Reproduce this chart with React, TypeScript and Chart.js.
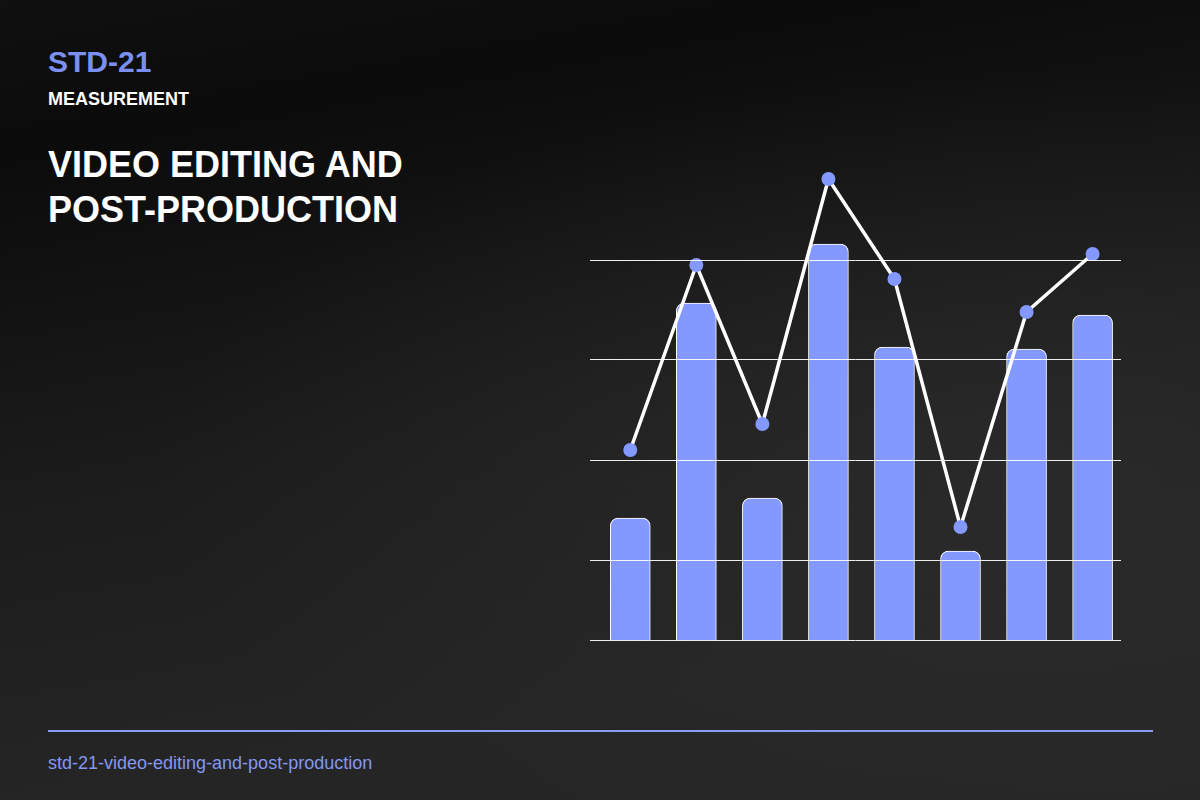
import React, { useEffect, useRef } from "react";
import { Chart, registerables } from "chart.js";

Chart.register(...registerables);

const categories = ["A", "B", "C", "D", "E", "F", "G", "H"];
const barValues = [28.4, 71.4, 32.4, 83.2, 62.6, 21.8, 62.2, 69];
const lineValues = [42, 79, 47.2, 96.2, 76.2, 26.6, 69.6, 81.2];
const gridTicks = [4, 20, 40, 60, 80];

const ACCENT = "#8499ff";

function ChartCanvas() {
  const ref = useRef<HTMLCanvasElement | null>(null);
  useEffect(() => {
    if (!ref.current) return;
    const barPoints = categories.map((_, i) => ({ x: i, y: barValues[i] }));
    const linePoints = categories.map((_, i) => ({ x: i, y: lineValues[i] }));
    const chart = new Chart(ref.current, {
      type: "bar",
      data: {
        labels: categories,
        datasets: [
          {
            type: "line",
            data: linePoints,
            borderColor: "#ffffff",
            borderWidth: 3.5,
            tension: 0,
            pointRadius: 7,
            pointHoverRadius: 7,
            pointBackgroundColor: ACCENT,
            pointBorderWidth: 0,
            fill: false,
          } as any,
          {
            type: "bar",
            data: barPoints,
            backgroundColor: ACCENT,
            borderColor: "#ffffff",
            borderWidth: 1,
            borderRadius: 8,
            borderSkipped: false,
            barThickness: 40,
          } as any,
        ],
      },
      options: {
        animation: false,
        responsive: false,
        maintainAspectRatio: false,
        layout: { autoPadding: false, padding: { top: 10, bottom: 10, left: 0, right: 0 } },
        plugins: { legend: { display: false }, tooltip: { enabled: false }, title: { display: false } },
        scales: {
          x: {
            type: "linear",
            display: false,
            offset: false,
            min: -0.61,
            max: 7.43,
          },
          y: {
            min: 4,
            max: 100,
            afterBuildTicks: (scale: any) => {
              scale.ticks = gridTicks.map((v) => ({ value: v }));
            },
            ticks: { display: false },
            border: { display: false },
            grid: {
              color: "rgba(255,255,255,0.92)",
              lineWidth: 1,
              drawTicks: false,
              z: 1,
            },
          },
        },
      } as any,
    });
    return () => chart.destroy();
  }, []);
  return (
    <canvas
      ref={ref}
      width={531}
      height={500}
      style={{ position: "absolute", left: 590, top: 150, width: 531, height: 500 }}
    />
  );
}

export default function App() {
  const font = "'Liberation Sans', Arial, Helvetica, sans-serif";
  return (
    <div
      style={{
        position: "fixed",
        left: 0,
        top: 0,
        width: 1200,
        height: 800,
        overflow: "hidden",
        fontFamily: font,
        background:
          "radial-gradient(ellipse at 85% 60%, rgba(48,48,48,0.6) 0%, rgba(40,40,40,0) 60%), linear-gradient(170deg, #101010 0%, #0b0b0b 15%, #1c1c1c 50%, #252525 80%, #262626 100%)",
      }}
    >
      <div style={{ position: "absolute", left: 48, top: 47, fontSize: 30, lineHeight: "30px", fontWeight: 700, color: "#7b8ff0" }}>
        STD-21
      </div>
      <div style={{ position: "absolute", left: 48, top: 90, fontSize: 18, lineHeight: "18px", fontWeight: 700, color: "#ffffff" }}>
        MEASUREMENT
      </div>
      <div style={{ position: "absolute", left: 48, top: 141.5, fontSize: 36, lineHeight: "45px", fontWeight: 700, color: "#ffffff" }}>
        VIDEO EDITING AND
        <br />
        POST-PRODUCTION
      </div>
      <ChartCanvas />
      <div style={{ position: "absolute", left: 48, top: 730, width: 1105, height: 2, background: "#8a9cf5" }} />
      <div style={{ position: "absolute", left: 48, top: 754, fontSize: 18, lineHeight: "18px", color: "#8497f0" }}>
        std-21-video-editing-and-post-production
      </div>
    </div>
  );
}
